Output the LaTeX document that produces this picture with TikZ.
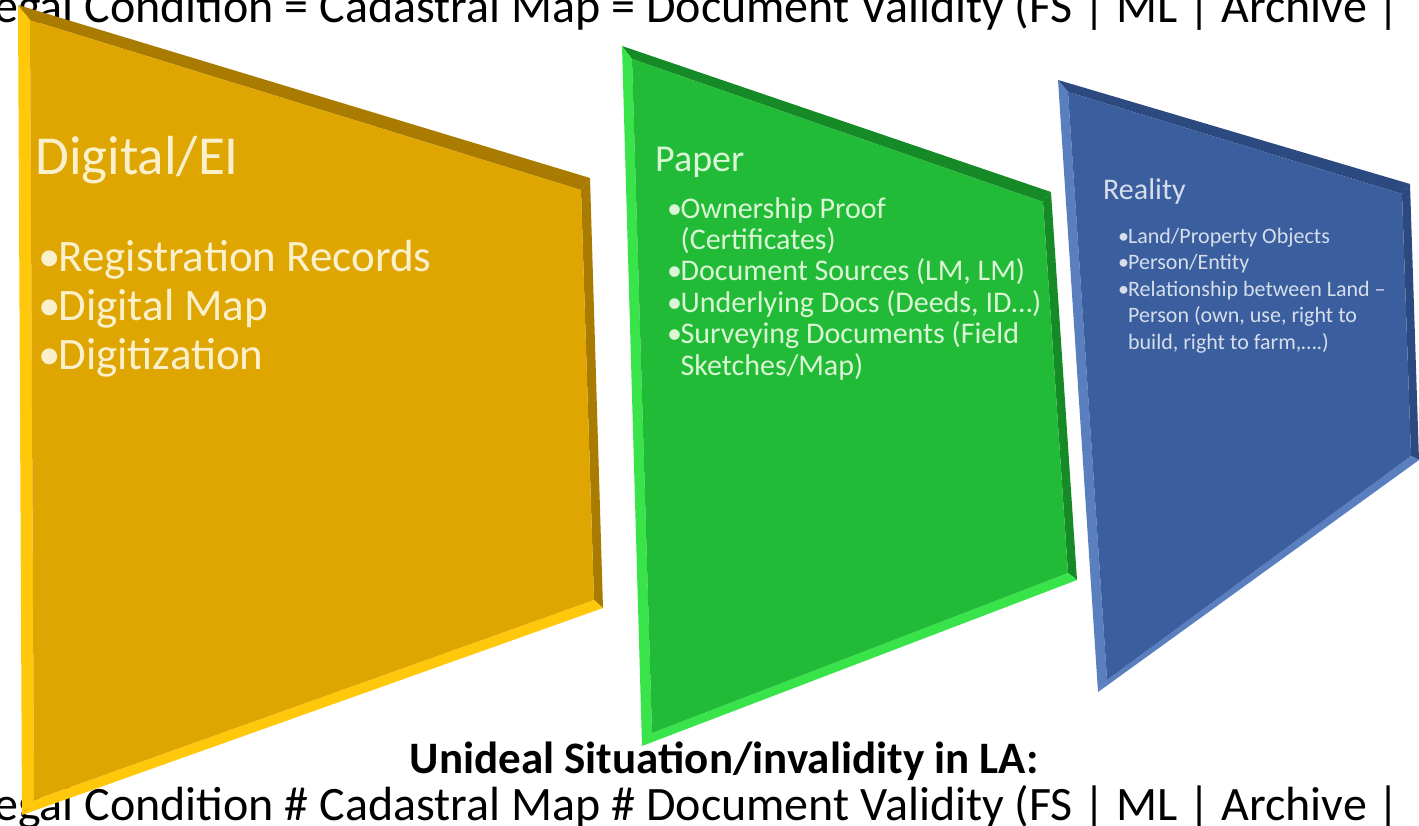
\documentclass[tikz,border=0pt]{standalone}
\usepackage{fontspec}
\setmainfont{Carlito}
\definecolor{goldface}{HTML}{DFA500}
\definecolor{goldlite}{HTML}{FFC80A}
\definecolor{golddark}{HTML}{A97B00}
\definecolor{goldtext}{HTML}{FBF0CC}
\definecolor{leafface}{HTML}{22BB38}
\definecolor{leaflite}{HTML}{38E44A}
\definecolor{leafdark}{HTML}{168A26}
\definecolor{leaftext}{HTML}{DAF6D4}
\definecolor{seaface}{HTML}{3B5F9E}
\definecolor{sealite}{HTML}{5A7FBE}
\definecolor{seadark}{HTML}{2D4A80}
\definecolor{seatext}{HTML}{D6DEEC}
\usetikzlibrary{positioning,calc}
\tikzset{
  line/.style={font=\fontsize{48}{54}\selectfont,inner sep=0pt,anchor=base west},
  head/.style={inner sep=0pt,anchor=base west},
  items/.style={inner sep=0pt,align=left,anchor=north west}
}
% bullet and hanging indent for the lists
\newcommand{\bul}{\makebox[0.45em][l]{\textbullet}}
\newcommand{\ind}{\hspace*{0.45em}}
% bevelled panel from outer corners (p-tl ... p-bl) and inner corners (p-itl ... p-ibl)
\newcommand{\bevelpanel}[4]{%
  \fill[#4] (#1-tl) -- (#1-tr) -- (#1-itr) -- (#1-itl) -- cycle;
  \fill[#4] (#1-tr) -- (#1-br) -- (#1-ibr) -- (#1-itr) -- cycle;
  \fill[#3] (#1-br) -- (#1-bl) -- (#1-ibl) -- (#1-ibr) -- cycle;
  \fill[#3] (#1-bl) -- (#1-tl) -- (#1-itl) -- (#1-ibl) -- cycle;
  \fill[#2] (#1-itl) -- (#1-itr) -- (#1-ibr) -- (#1-ibl) -- cycle;}

\begin{document}
\begin{tikzpicture}[x=1pt,y=-1pt]
    \useasboundingbox (0,0) rectangle (1419,826);
    \clip (0,0) rectangle (1419,826);
    % captions behind the panels
    \node[line] (top) at (-6,23)
         {egal Condition = Cadastral Map = Document Validity (FS | ML | Archive |};
    \node[font=\fontsize{45}{50}\selectfont\bfseries,inner sep=0pt,anchor=base]
         (sit) at (724,773) {Unideal Situation/invalidity in LA:};
    \node[line] (bot) at (-6,820)
         {egal Condition \# Cadastral Map \# Document Validity (FS | ML | Archive |};
    % Digital/EI panel
    \coordinate (dig-tl) at (18,5);    \coordinate (dig-itl) at (30,20);
    \coordinate (dig-tr) at (590,178); \coordinate (dig-itr) at (581,190);
    \coordinate (dig-br) at (603,608); \coordinate (dig-ibr) at (594,600);
    \coordinate (dig-bl) at (22,815);  \coordinate (dig-ibl) at (34,800);
    \bevelpanel{dig}{goldface}{goldlite}{golddark}
    % Paper panel
    \coordinate (pap-tl) at (622,46);   \coordinate (pap-itl) at (632,59);
    \coordinate (pap-tr) at (1051,192); \coordinate (pap-itr) at (1043,202);
    \coordinate (pap-br) at (1077,580); \coordinate (pap-ibr) at (1068,573);
    \coordinate (pap-bl) at (642,746);  \coordinate (pap-ibl) at (652,733);
    \bevelpanel{pap}{leafface}{leaflite}{leafdark}
    % Reality panel
    \coordinate (rea-tl) at (1058,80);  \coordinate (rea-itl) at (1068,92);
    \coordinate (rea-tr) at (1410,184); \coordinate (rea-itr) at (1402,194);
    \coordinate (rea-br) at (1419,460); \coordinate (rea-ibr) at (1411,456);
    \coordinate (rea-bl) at (1098,692); \coordinate (rea-ibl) at (1107,680);
    \bevelpanel{rea}{seaface}{sealite}{seadark}
    % panel texts
    \node[head,font=\fontsize{55}{60}\selectfont,text=goldtext] (dighead) at (35,175) {Digital/EI};
    \node[items,font=\fontsize{45}{49}\selectfont,text=goldtext] (diglist) at (38,240)
         {\bul Registration Records\\\bul Digital Map\\\bul Digitization};
    \node[head,font=\fontsize{38}{42}\selectfont,text=leaftext] (paphead) at (655,172) {Paper};
    \node[items,font=\fontsize{30}{31.4}\selectfont,text=leaftext] (paplist) at (667,197)
         {\bul Ownership Proof\\\ind (Certificates)\\\bul Document Sources (LM, LM)\\
          \bul Underlying Docs (Deeds, ID\dots)\\\bul Surveying Documents (Field\\\ind Sketches/Map)};
    \node[head,font=\fontsize{30}{34}\selectfont,text=seatext] (reahead) at (1103,200) {Reality};
    \node[items,font=\fontsize{22}{26.5}\selectfont,text=seatext] (realist) at (1118,228)
         {\bul Land/Property Objects\\\bul Person/Entity\\\bul Relationship between Land --\\
          \ind Person (own, use, right to\\\ind build, right to farm,\dots.)};
\end{tikzpicture}
\end{document}
